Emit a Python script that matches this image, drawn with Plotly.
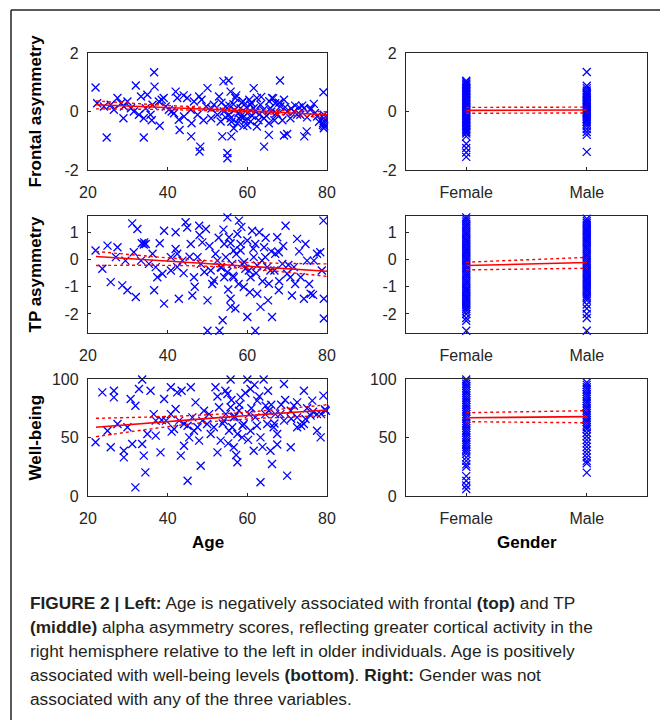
import plotly.graph_objects as go

# ---- data ----
# Frontal asymmetry vs age
front_age = [21.9, 24.7, 36.6, 32.0, 36.7, 34.0, 38.0, 28.9, 27.4, 29.9, 31.5, 32.8, 34.0, 34.9, 39.0,
             42.0, 42.4, 42.8, 43.0, 45.9, 44.9, 47.9, 50.0, 48.2, 48.0, 55.0, 55.0, 54.0, 55.3, 56.0,
             61.6, 68.2, 64.2, 69.2, 70.0, 74.3, 74.9, 79.1, 80.5, 80.8, 79.0, 79.2, 79.2, 76.7, 73.0,
             71.7, 69.2, 66.2, 67.0, 62.4, 60.8, 58.3, 57.0, 55.8, 52.9, 52.5, 53.3, 55.8, 57.5, 59.2,
             60.0, 60.8, 62.4, 64.2, 65.4, 67.5, 70.8, 73.3, 74.2, 77.5, 50.9, 49.7, 47.5, 45.8, 44.1,
             41.6, 40.3, 39.5, 37.8, 36.2, 35.7, 34.5, 29.0, 26.5, 25.7, 24.0, 22.3, 28.3, 30.8, 33.3,
             46.6, 51.6, 54.1, 54.6, 55.4, 56.6, 58.3, 60.0, 61.6, 63.3, 65.8, 68.3, 70.0, 75.8, 79.2,
             79.2, 65.4, 53.7, 56.5, 57.8, 58.9, 59.6, 61.0, 63.0, 66.8, 72.0, 78.0,
             53.5, 54.5, 55.5, 56.0, 56.8, 57.2, 58.0, 58.6, 59.0, 59.8, 60.5, 61.2, 62.0, 62.8, 63.5,
             64.0, 64.8, 65.5, 66.0, 66.5, 67.3, 68.0, 68.8, 69.5, 71.0, 72.5, 73.8, 75.0, 76.0, 77.0,
             79.0, 79.3, 48.5, 49.0, 51.0, 46.0, 44.0, 41.0, 38.5, 36.0]
front_val = [0.82, -0.89, 1.34, 0.89, 0.85, -0.89, -0.49, -0.23, 0.46, 0.34, 0.0, -0.11, -0.23, 0.57, 0.46,
             0.68, 0.46, -0.28, -0.63, -0.85, 0.46, 0.51, 0.80, -1.20, -1.37, -1.60, -1.42, 1.03, 1.06, -0.85,
             0.80, 1.06, -1.20, -0.82, -0.77, -0.85, -0.68, 0.66, 0.03, -1.44, -0.46, -0.57, -0.32, 0.26, 0.14,
             0.0, 0.40, 0.46, 0.28, 0.46, 0.23, 0.11, 0.46, 0.68, 0.51, -0.11, -0.34, -0.23, -0.40, -0.17,
             -0.06, -0.34, -0.51, -0.23, -0.40, -0.11, -0.23, -0.11, 0.11, -0.17, -0.23, 0.17, -0.11, 0.06, -0.17,
             -0.06, 0.06, 0.17, 0.34, 0.23, -0.11, 0.11, 0.17, 0.06, 0.23, 0.17, 0.28, 0.28, 0.11, 0.51,
             0.34, 0.23, 0.0, 0.17, -0.11, -0.57, -0.17, -0.46, 0.11, 0.23, 0.11, 0.17, 0.0, 0.06, -0.11,
             -0.23, -0.80, -0.85, 0.25, -0.05, 0.35, -0.30, 0.30, -0.10, -0.30, 0.20, -0.35,
             0.30, -0.20, 0.20, -0.35, 0.05, 0.55, -0.25, 0.30, -0.50, 0.15, 0.40, -0.15, 0.0, -0.30, 0.50,
             0.05, -0.15, 0.35, 0.0, 0.45, -0.05, 0.30, -0.30, 0.15, 0.10, -0.10, 0.20, -0.20, 0.10, -0.05,
             -0.40, -0.50, 0.40, -0.30, 0.10, -0.40, 0.55, 0.0, 0.40, -0.30]

# TP asymmetry vs age
tp_age = [21.9, 23.6, 24.9, 25.7, 27.4, 27.0, 28.6, 29.9, 31.1, 32.0, 32.4, 33.3, 34.1, 34.5, 36.6,
          37.0, 39.1, 39.1, 40.8, 42.0, 42.4, 42.8, 44.5, 44.9, 45.8, 46.6, 46.2, 47.9, 48.7, 49.6,
          50.0, 50.0, 50.8, 52.0, 53.0, 53.8, 54.2, 55.0, 55.4, 55.8, 55.8, 56.2, 57.0, 57.5, 57.9,
          58.3, 59.1, 60.0, 60.4, 61.2, 61.6, 62.0, 62.5, 63.3, 64.2, 65.0, 65.4, 66.2, 67.5, 67.9,
          68.8, 69.6, 70.8, 71.2, 72.5, 74.2, 74.6, 75.0, 75.9, 77.5, 79.1, 79.2, 79.2, 80.9, 78.7,
          78.3, 42.4, 43.7, 40.8, 38.7, 37.4, 36.2, 35.3, 29.4, 31.5, 47.5, 48.3, 49.2, 51.6, 52.5,
          53.3, 54.6, 55.0, 56.6, 58.7, 59.5, 60.8, 62.5, 63.7, 65.8, 67.0, 70.0, 71.7, 73.4, 76.7,
          58.3, 56.6, 54.2, 64.5, 62.0, 67.9, 42.0,
          50.5, 51.2, 52.8, 53.5, 54.0, 55.2, 55.8, 56.4, 57.2, 57.8, 58.5, 59.2, 60.0, 60.6, 61.5,
          62.2, 63.0, 63.8, 64.6, 65.2, 66.0, 66.8, 68.0, 69.0, 70.3, 72.0, 73.0, 75.5, 76.5, 44.0,
          45.5, 46.8, 48.0, 38.0, 33.5, 34.0]
tp_val = [0.33, -0.34, 0.51, -0.83, 0.45, 0.09, -0.95, -1.13, 1.33, -1.38, 1.12, -0.04, 0.63, 0.57, -1.13,
          -0.28, 1.06, -1.62, 0.09, 1.00, -0.28, -1.44, 1.37, 1.18, 0.57, -0.65, -1.32, 1.24, 0.63, 1.12,
          -1.50, -2.62, -0.40, 0.21, -2.62, -2.23, -0.65, 1.55, 0.82, -1.44, -1.74, -0.16, -1.80, 0.94, 1.43,
          0.33, -1.01, -2.11, -0.40, 1.06, 0.09, -2.62, -1.26, -1.74, 0.45, -0.28, -0.89, -2.11, 0.82, -1.13,
          -0.16, 1.24, -0.65, -1.32, 0.76, -1.44, 0.57, -0.04, -1.26, 0.21, 1.43, -2.17, -1.44, -0.77, -0.40,
          0.27, 0.21, -0.04, -0.40, -0.52, -0.65, 0.21, -0.16, -0.04, 0.27, 0.09, -0.16, -0.46, -0.77, -0.04,
          -0.28, 0.09, -0.46, -0.65, -0.16, -0.34, -0.65, -0.22, -0.04, -0.40, 0.21, -0.52, -0.28, -0.65, -0.04,
          0.57, 0.33, 0.57, 0.09, 0.57, 0.27, 0.39,
          0.50, -0.90, 0.80, -0.30, 1.10, -1.10, 0.60, -0.60, 0.20, -0.90, 1.20, -0.10, 0.70, -1.20, 0.40,
          -0.50, 1.00, -0.80, 0.80, -1.50, 0.30, -0.40, -0.80, 0.50, -0.20, -0.90, 0.30, -0.90, -1.30, -0.50,
          0.10, -1.00, 0.90, 0.60, 0.60, 0.55]

# Well-being vs age
wb_age = [21.9, 23.6, 24.9, 25.7, 26.5, 26.5, 29.0, 29.0, 30.7, 31.1, 31.9, 31.9, 32.8, 33.6, 33.6,
          34.0, 34.4, 35.7, 36.5, 37.0, 38.2, 39.1, 40.8, 41.6, 42.4, 42.9, 43.3, 44.1, 45.0, 45.8,
          46.2, 46.6, 47.9, 48.3, 49.1, 49.9, 50.8, 52.0, 52.5, 53.3, 54.1, 55.0, 55.8, 55.8, 56.2,
          56.6, 57.5, 58.3, 58.7, 60.0, 60.4, 60.8, 61.6, 62.5, 63.3, 64.1, 64.6, 65.0, 65.8, 66.2,
          67.0, 67.5, 68.3, 69.2, 70.0, 70.9, 71.7, 72.5, 74.2, 74.6, 76.3, 78.4, 79.1, 79.7, 80.9,
          77.5, 40.8, 39.6, 42.0, 44.1, 45.4, 47.5, 48.7, 50.4, 51.6, 52.9, 54.6, 55.4, 56.6, 57.5,
          57.9, 59.1, 60.8, 62.0, 63.3, 65.4, 66.6, 69.2, 70.9, 72.5, 74.2, 75.9, 77.5, 37.0, 34.9,
          29.9, 27.4,
          52.5, 53.8, 54.5, 55.2, 56.0, 56.8, 57.2, 58.0, 58.8, 59.5, 60.2, 61.0, 61.8, 62.4, 63.0,
          63.8, 64.5, 65.2, 66.0, 66.8, 67.5, 68.5, 69.5, 71.0, 72.5, 73.5, 75.0, 76.5, 78.5, 79.5,
          47.0, 45.0, 43.5, 41.0, 38.5]
wb_val = [45.9, 88.6, 55.8, 41.6, 90.0, 84.3, 38.7, 33.0, 82.9, 44.4, 77.2, 7.4, 91.5, 99.5, 44.4,
          34.5, 20.2, 90.0, 70.0, 51.6, 37.3, 82.9, 92.9, 57.3, 88.6, 64.4, 34.5, 43.0, 13.1, 92.9,
          67.2, 55.8, 47.3, 25.9, 72.9, 61.5, 53.0, 92.9, 37.3, 47.3, 64.4, 87.2, 99.5, 75.8, 58.7,
          41.6, 28.8, 84.3, 50.1, 99.5, 70.0, 91.5, 38.7, 81.5, 11.7, 99.5, 77.2, 61.5, 38.7, 27.4,
          70.0, 53.0, 70.0, 95.7, 17.4, 41.6, 77.2, 58.7, 90.0, 65.8, 81.5, 50.1, 85.8, 72.9, 77.2,
          70.0, 70.0, 64.4, 74.4, 61.5, 50.1, 58.7, 64.4, 70.0, 58.7, 75.8, 70.0, 55.8, 67.2, 53.0,
          72.9, 61.5, 55.8, 67.2, 50.1, 72.9, 58.7, 64.4, 72.9, 67.2, 61.5, 68.7, 55.8, 64.4, 53.0,
          58.7, 61.5,
          85.0, 62.0, 90.0, 45.0, 82.0, 68.0, 35.0, 78.0, 60.0, 88.0, 48.0, 75.0, 95.0, 60.0, 85.0,
          42.0, 70.0, 90.0, 78.0, 62.0, 44.0, 78.0, 82.0, 66.0, 80.0, 60.0, 75.0, 72.0, 70.0, 74.0,
          80.0, 60.0, 90.0, 55.0, 65.0]

# Gender columns (1 = Female, 2 = Male)
gender_labels = ["Female", "Male"]
front_f = [1.05, 1.0, 0.95, 0.9, 0.85, 0.8, 0.75, 0.7, 0.65, 0.6, 0.55, 0.5, 0.45, 0.4, 0.35, 0.3,
           0.25, 0.2, 0.15, 0.1, 0.05, 0.0, -0.05, -0.1, -0.15, -0.2, -0.25, -0.3, -0.35, -0.4, -0.45,
           -0.5, -0.55, -0.6, -0.65, -0.7, -0.75, -0.85, -1.1, -1.25, -1.4, -1.55]
front_m = [1.35, 0.88, 0.8, 0.72, 0.65, 0.6, 0.55, 0.5, 0.45, 0.4, 0.35, 0.3, 0.25, 0.2, 0.15, 0.1,
           0.05, 0.0, -0.05, -0.1, -0.15, -0.2, -0.25, -0.3, -0.35, -0.42, -0.5, -0.6, -0.7, -0.8, -1.38]
tp_f = [1.55, 1.48, 1.4, 1.32, 1.25, 1.18, 1.1, 1.02, 0.95, 0.88, 0.8, 0.72, 0.65, 0.58, 0.5, 0.42,
        0.35, 0.28, 0.2, 0.12, 0.05, -0.02, -0.1, -0.18, -0.25, -0.32, -0.4, -0.48, -0.55, -0.62, -0.7,
        -0.78, -0.85, -0.92, -1.0, -1.08, -1.15, -1.22, -1.3, -1.38, -1.45, -1.52, -1.6, -1.68, -1.75,
        -1.82, -1.9, -2.0, -2.15, -2.25, -2.62]
tp_m = [1.5, 1.42, 1.35, 1.28, 1.2, 1.12, 1.05, 0.98, 0.9, 0.82, 0.75, 0.68, 0.6, 0.52, 0.45, 0.38,
        0.3, 0.22, 0.15, 0.08, 0.0, -0.08, -0.15, -0.22, -0.3, -0.38, -0.45, -0.52, -0.6, -0.68, -0.75,
        -0.82, -0.9, -0.98, -1.05, -1.12, -1.2, -1.28, -1.35, -1.42, -1.5, -1.65, -1.8, -2.0, -2.15, -2.62]
wb_f = [99.5, 98, 96, 94, 92, 90, 88, 86, 84, 82, 80, 78, 76, 74, 72, 70, 68, 66, 64, 62, 60, 58, 56,
        54, 52, 50, 48, 46, 44, 42, 40, 38, 36, 33, 30, 27, 25, 17, 13, 9, 6]
wb_m = [97, 95, 93, 91, 89, 87, 85, 83, 81, 79, 77, 75, 73, 71, 69, 67, 65, 63, 61, 59, 57, 54, 51,
        48, 45, 42, 39, 36, 33, 30, 28, 20]

# Regression fits with confidence bounds (age: 22 / 52 / 80, gender: Female / Male)
fit_age = [22, 52, 80]
front_fit = [0.23, 0.07, -0.11]
front_lo = [0.09, 0.02, -0.22]
front_hi = [0.36, 0.12, -0.01]
tp_fit = [0.11, -0.16, -0.43]
tp_lo = [-0.22, -0.26, -0.62]
tp_hi = [0.30, -0.06, -0.16]
wb_fit = [58.7, 66.8, 73.5]
wb_lo = [50.7, 63.8, 68.7]
wb_hi = [66.4, 69.8, 78.0]

fit_gender = [1, 2]
front_gfit = [0.04, 0.05]
front_glo = [-0.06, -0.05]
front_ghi = [0.14, 0.15]
tp_gfit = [-0.22, -0.11]
tp_glo = [-0.38, -0.32]
tp_ghi = [-0.10, 0.08]
wb_gfit = [66.9, 67.8]
wb_glo = [63.5, 62.6]
wb_ghi = [71.2, 72.9]

W, H = 668, 720
OFF = 8  # page body margin shifts the figure by this much
INK = "#262626"
BLUE = "#0000ff"
RED = "#ff0000"

fig = go.Figure()


def px_x(p):
    return (p - OFF) / W


def px_y(p):
    return 1 - (p - OFF) / H


panels = [
    # (axis suffix, x, y, fit x, fit, lo, hi)
    ("", front_age, front_val, fit_age, front_fit, front_lo, front_hi),
    ("3", tp_age, tp_val, fit_age, tp_fit, tp_lo, tp_hi),
    ("5", wb_age, wb_val, fit_age, wb_fit, wb_lo, wb_hi),
    ("2", [1] * len(front_f) + [2] * len(front_m), front_f + front_m, fit_gender, front_gfit, front_glo, front_ghi),
    ("4", [1] * len(tp_f) + [2] * len(tp_m), tp_f + tp_m, fit_gender, tp_gfit, tp_glo, tp_ghi),
    ("6", [1] * len(wb_f) + [2] * len(wb_m), wb_f + wb_m, fit_gender, wb_gfit, wb_glo, wb_ghi),
]

for suf, xs, ys, fx, fy, lo, hi in panels:
    xa, ya = "x" + suf, "y" + suf
    fig.add_trace(go.Scatter(x=xs, y=ys, mode="markers", xaxis=xa, yaxis=ya, cliponaxis=False,
                             marker=dict(symbol="x-thin", size=8, line=dict(color=BLUE, width=1.3))))
    for band in (lo, hi):
        fig.add_trace(go.Scatter(x=fx, y=band, mode="lines", xaxis=xa, yaxis=ya, line_shape="spline",
                                 line=dict(color=RED, width=1.4, dash="dot")))
    fig.add_trace(go.Scatter(x=fx, y=fy, mode="lines", xaxis=xa, yaxis=ya,
                             line=dict(color=RED, width=1.6)))

axis_common = dict(showline=True, mirror=True, linecolor=INK, linewidth=1.3, ticks="inside",
                   ticklen=3, tickcolor=INK, showgrid=False, zeroline=False, automargin=False,
                   tickfont=dict(family="Liberation Sans, Arial", size=16, color=INK))

rows = [(53, 170, [-2, 2], [-2, 0, 2]),
        (216, 333, [-2.7, 1.6], [-2, -1, 0, 1]),
        (379, 496, [0, 100], [0, 50, 100])]
layout = {}
for r, (top, bot, yr, yt) in enumerate(rows):
    left_n = 2 * r + 1
    right_n = 2 * r + 2
    for n, (x0, x1) in ((left_n, (88, 327)), (right_n, (406, 647))):
        key = "" if n == 1 else str(n)
        xax = dict(axis_common, domain=[px_x(x0), px_x(x1)], anchor="y" + key, ticklabelstandoff=8)
        if n % 2 == 1:
            xax.update(range=[20, 80], tickvals=[20, 40, 60, 80])
        else:
            xax.update(range=[0.5, 2.5], tickvals=[1, 2], ticktext=gender_labels)
        yax = dict(axis_common, domain=[px_y(bot), px_y(top)], anchor="x" + key, range=yr,
                   tickvals=yt, ticktext=[str(v) for v in yt], ticklabelstandoff=5)
        layout["xaxis" + key] = xax
        layout["yaxis" + key] = yax

fig.update_layout(**layout)

bold = dict(family="Liberation Sans, Arial", size=17, color="#000000")
ann = []
for text, yc in (("Frontal asymmetry", 111.5), ("TP asymmetry", 274.5), ("Well-being", 437.5)):
    ann.append(dict(text="<b>%s</b>" % text, x=px_x(35), y=px_y(yc), xref="paper", yref="paper",
                    textangle=-90, showarrow=False, font=bold, xanchor="center", yanchor="middle"))
ann.append(dict(text="<b>Age</b>", x=px_x(207.5), y=px_y(542), xref="paper", yref="paper",
                showarrow=False, font=bold, xanchor="center", yanchor="middle"))
ann.append(dict(text="<b>Gender</b>", x=px_x(526.5), y=px_y(542), xref="paper", yref="paper",
                showarrow=False, font=bold, xanchor="center", yanchor="middle"))

caption = [
    "<b>FIGURE 2 | Left:</b> Age is negatively associated with frontal <b>(top)</b> and TP",
    "<b>(middle)</b> alpha asymmetry scores, reflecting greater cortical activity in the",
    "right hemisphere relative to the left in older individuals. Age is positively",
    "associated with well-being levels <b>(bottom)</b>. <b>Right:</b> Gender was not",
    "associated with any of the three variables.",
]
for i, line in enumerate(caption):
    ann.append(dict(text=line, x=px_x(28), y=px_y(603 + 24 * i), xref="paper", yref="paper",
                    showarrow=False, xanchor="left", yanchor="middle",
                    font=dict(family="Liberation Sans, Arial", size=17.3, color="#231f20")))

fig.update_layout(
    width=W, height=H, margin=dict(l=0, r=0, t=0, b=0, autoexpand=False),
    paper_bgcolor="white", plot_bgcolor="white", showlegend=False,
    annotations=ann,
    shapes=[
        dict(type="line", xref="paper", yref="paper", x0=px_x(11), x1=1.0, y0=px_y(10), y1=px_y(10),
             line=dict(color="#222222", width=1.5)),
        dict(type="line", xref="paper", yref="paper", x0=px_x(11), x1=px_x(11), y0=px_y(10), y1=0,
             line=dict(color="#222222", width=1.5)),
    ],
)

fig.write_html("out.html")
